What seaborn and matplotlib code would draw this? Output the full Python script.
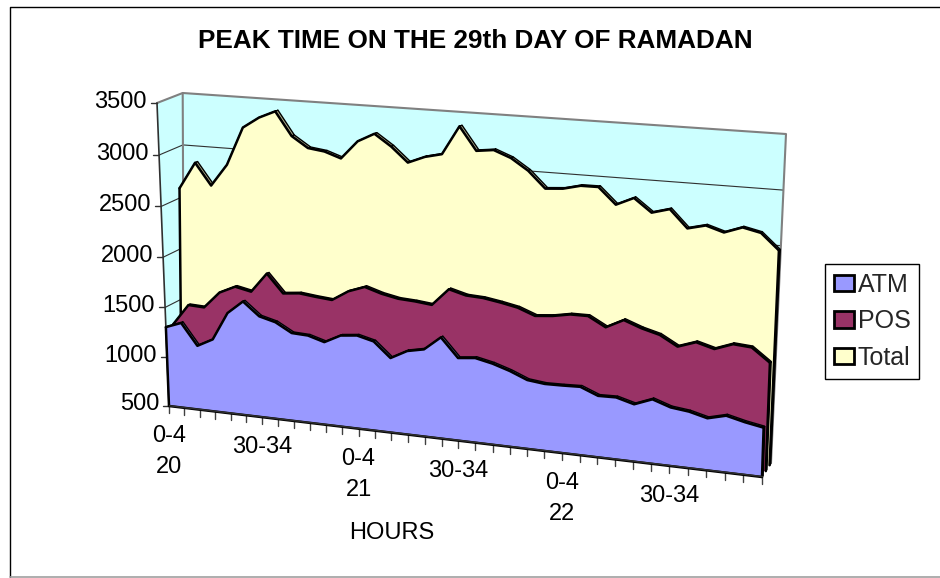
import numpy as np
import seaborn as sns
import matplotlib.pyplot as plt
from matplotlib.patches import Patch

hours = ["0-4", "30-34", "0-4", "30-34", "0-4", "30-34"]
hour_ticks = [0, 6, 12, 18, 24, 30]
days = ["20", "21", "22"]
day_ticks = [0, 12, 24]
y_ticks = [500, 1000, 1500, 2000, 2500, 3000, 3500]

atm = [1302, 1360, 1147, 1228, 1507, 1637, 1506, 1464, 1374, 1366, 1318, 1399,
       1416, 1375, 1231, 1316, 1349, 1481, 1300, 1317, 1281, 1228, 1160, 1141,
       1144, 1150, 1083, 1087, 1041, 1106, 1049, 1029, 986, 1029, 988, 957]
pos = [1294, 1500, 1492, 1654, 1727, 1693, 1885, 1706, 1722, 1703, 1688, 1787,
       1844, 1794, 1761, 1751, 1733, 1897, 1853, 1844, 1817, 1784, 1722, 1737,
       1767, 1768, 1679, 1762, 1701, 1657, 1565, 1622, 1576, 1637, 1624, 1501]
total = [2595, 2855, 2646, 2859, 3227, 3333, 3403, 3180, 3077, 3056, 3002, 3175,
         3257, 3149, 3010, 3075, 3112, 3382, 3166, 3185, 3123, 3018, 2865, 2877,
         2916, 2917, 2768, 2842, 2721, 2766, 2604, 2644, 2594, 2653, 2617, 2473]

names = ["ATM", "POS", "Total"]
colors = ["#9999FF", "#993366", "#FFFFCC"]
sides = ["#5c5c99", "#5c1f3d", "#b3b38f"]
depths = [0.0, 0.42, 0.84]
thick = 0.11
font = ["Liberation Sans", "DejaVu Sans"]


def homography(c00, c01, c10, c11):
    # unit square (u, t) -> picture pixels
    src = [(0, 0), (0, 1), (1, 0), (1, 1)]
    dst = [c00, c01, c10, c11]
    a, b = [], []
    for (u, t), (x, y) in zip(src, dst):
        a.append([u, t, 1, 0, 0, 0, -u * x, -t * x])
        a.append([0, 0, 0, u, t, 1, -u * y, -t * y])
        b += [x, y]
    h = np.linalg.solve(np.array(a, float), np.array(b, float))
    return np.append(h, 1).reshape(3, 3)


front = homography((169, 406), (157, 103), (762, 477), (773, 142))
back = homography((184, 398), (182.7, 93), (771, 463), (786, 134))


def apply(h, u, t):
    w = h[2, 0] * u + h[2, 1] * t + h[2, 2]
    return ((h[0, 0] * u + h[0, 1] * t + h[0, 2]) / w,
            (h[1, 0] * u + h[1, 1] * t + h[1, 2]) / w)


def project(i, v, d):
    u = np.asarray(i, float) / 35
    t = (np.asarray(v, float) - 500) / 3000
    fx, fy = apply(front, u, t)
    bx, by = apply(back, u, t)
    return fx + (bx - fx) * d, fy + (by - fy) * d


def line(x, y, color, lw, z):
    sns.lineplot(x=x, y=y, sort=False, color=color, lw=lw, ax=ax, legend=False,
                 estimator=None, zorder=z)


sns.set_style("white")
plt.rcParams["font.family"] = font

fig = plt.figure(figsize=(9.4, 5.78), dpi=100)
ax = fig.add_axes([0, 0, 1, 1])
ax.set_xlim(0, 940)
ax.set_ylim(578, 0)
ax.axis("off")

# chart frame, open on the right
line([10, 10, 940], [577, 6.7, 6.7], "#000000", 1, 1)
line([10, 940], [577, 577], "#A0A0A0", 1.2, 1)

# walls
xa, ya = project([0, 0, 0, 0], [500, 3500, 3500, 500], [0, 0, 1, 1])
ax.fill(xa, ya, color="#CCFFFF", lw=0, zorder=1)
xa, ya = project([0, 0, 35, 35], [500, 3500, 3500, 500], [1, 1, 1, 1])
ax.fill(xa, ya, color="#CCFFFF", lw=0, zorder=1)

for v in y_ticks[:-1]:
    xa, ya = project([0, 0, 35], [v, v, v], [0, 1, 1])
    line(xa, ya, "#303030", 0.8, 1.5)

xa, ya = project([0, 0, 35, 35], [500, 3500, 3500, 500], [1, 1, 1, 1])
line(xa, ya, "#808080", 1.5, 1.6)
xa, ya = project([0, 0], [3500, 3500], [0, 1])
line(xa, ya, "#808080", 1.5, 1.6)
xa, ya = project([0, 0], [500, 3500], [0, 0])
line(xa, ya, "#303030", 1.2, 1.7)

# y axis ticks and labels
for v in y_ticks:
    xa, ya = project(0, v, 0)
    ax.plot([xa - 6, xa], [ya, ya], color="#303030", lw=1, zorder=1.7)
    ax.text(xa - 10, ya - 1.5, str(v), ha="right", va="center", fontsize=17, color="black")

# series, back to front
n = len(atm)
idx = np.arange(n)
z = 2
for vals, col, side, d in reversed(list(zip([atm, pos, total], colors, sides, depths))):
    vals = np.array(vals, float)
    for i in range(n - 1):
        xa, ya = project([i, i + 1, i + 1, i], [vals[i], vals[i + 1], vals[i + 1], vals[i]],
                         [d, d, d + thick, d + thick])
        ax.fill(xa, ya, fc=side, ec="black", lw=1, zorder=z)
    # right end of the slab
    xa, ya = project([35, 35, 35, 35], [500, vals[-1], vals[-1], 500], [d, d, d + thick, d + thick])
    ax.fill(xa, ya, fc="#202020", ec="black", lw=1.2, zorder=z)
    fx, fy = project(idx, vals, d)
    bx, by = project([35, 0], [500, 500], [d, d])
    ax.fill(np.append(fx, bx), np.append(fy, by), fc=col, ec="none", zorder=z + 0.1)
    line(fx, fy, "black", 1.8, z + 0.2)
    line([fx[-1], bx[0]], [fy[-1], by[0]], "black", 1.8, z + 0.2)
    line([fx[0], bx[1]], [fy[0], by[1]], "black", 1.8, z + 0.2)
    z += 1

xa, ya = project([0, 35], [500, 500], [0, 0])
line(xa, ya, "black", 1.8, z)
xa, ya = project([0, 35], [500, 500], [0.03, 0.03])
line(xa, ya, "#303030", 1, z)

# x ticks and labels
for i in range(n):
    xa, ya = project(i, 500, 0)
    ax.plot([xa, xa], [ya, ya + 7], color="#404040", lw=1, zorder=z - 0.5)
for i, lab in zip(hour_ticks, hours):
    xa, ya = project(i, 500, 0)
    ax.text(xa, ya + 30, lab, ha="center", va="center", fontsize=17, color="black")
for i, lab in zip(day_ticks, days):
    xa, ya = project(i, 500, 0)
    ax.text(xa, ya + 61, lab, ha="center", va="center", fontsize=17, color="black")

ax.text(392, 533, "HOURS", ha="center", va="center", fontsize=17, color="black")
ax.text(475, 41.5, "PEAK TIME ON THE 29th DAY OF RAMADAN", ha="center", va="center",
        fontsize=18.8, fontweight="bold", color="black")

handles = [Patch(fc=c, ec="black", lw=2) for c in colors]
leg = ax.legend(handles, names, loc="upper left", bbox_to_anchor=(825 / 940, 1 - 264 / 578),
                bbox_transform=fig.transFigure, borderaxespad=0, fontsize=18, fancybox=False,
                framealpha=1, edgecolor="black", handlelength=0.8, handleheight=0.65,
                handletextpad=0.15, labelspacing=0.5, borderpad=0.35)
leg.set_zorder(10)

fig.savefig("out.png", dpi=100)
